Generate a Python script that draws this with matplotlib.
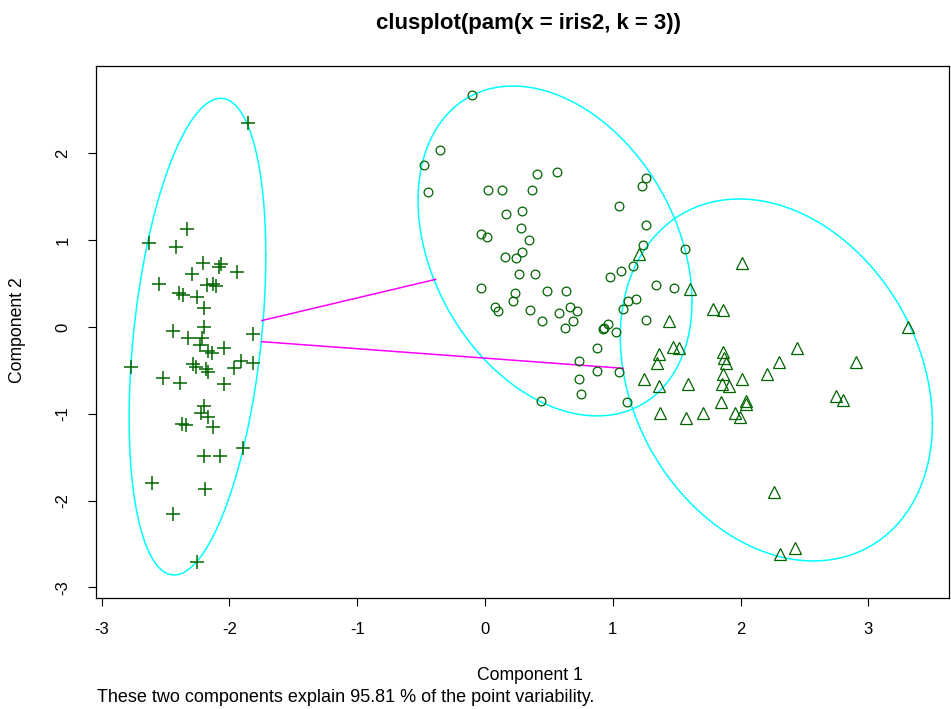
import matplotlib.pyplot as plt
import numpy as np

plt.rcParams['font.family'] = ['Liberation Sans', 'DejaVu Sans']
plt.rcParams['axes.unicode_minus'] = False

# principal component scores, cluster 1 (drawn as +)
c1_comp1 = [-1.852, -2.329, -2.629, -2.420, -2.209, -2.066, -2.079, -1.943, -2.293, -2.548,
            -2.178, -2.131, -2.105, -2.397, -2.366, -2.256, -2.199, -2.199, -2.439, -1.813,
            -2.321, -2.217, -2.230, -2.165, -2.139, -2.042, -2.772, -2.287, -2.261, -2.183,
            -2.165, -1.964, -1.909, -1.818, -2.522, -2.387, -2.042, -2.199, -2.225, -2.165,
            -2.131, -2.373, -2.340, -1.896, -2.199, -2.074, -2.608, -2.191, -2.439, -2.256]
c1_comp2 = [2.347, 1.125, 0.971, 0.922, 0.741, 0.722, 0.695, 0.634, 0.611, 0.492,
            0.480, 0.495, 0.476, 0.395, 0.365, 0.349, 0.215, 0.004, -0.042, -0.081,
            -0.130, -0.130, -0.207, -0.273, -0.303, -0.246, -0.457, -0.426, -0.457, -0.488,
            -0.515, -0.476, -0.388, -0.411, -0.591, -0.641, -0.660, -0.910, -0.987, -1.033,
            -1.148, -1.121, -1.133, -1.398, -1.482, -1.486, -1.793, -1.866, -2.154, -2.704]

# cluster 2 (circles)
c2_comp1 = [-0.104, -0.355, -0.480, -0.446, 0.407, 0.563, 0.021, 0.131, 0.368, 0.167,
            0.287, 0.279, -0.031, 0.013, 0.342, 0.287, 0.159, 0.243,
            1.262, 1.226, 1.051, 1.262, 1.234, 1.565,
            0.264, 0.391, -0.031, 0.232, 0.222, 0.483, 0.636, 0.076, 0.099, 0.352,
            0.581, 0.663, 0.443, 0.629, 0.691, 0.436,
            1.161, 1.062, 0.976, 1.336, 1.477, 0.722, 1.184, 1.119, 1.077, 1.262,
            0.960, 0.934, 0.926, 1.025, 0.876, 0.738, 0.879, 1.051, 0.738, 0.749, 1.109]
c2_comp2 = [2.673, 2.036, 1.863, 1.552, 1.766, 1.782, 1.578, 1.578, 1.578, 1.305,
            1.336, 1.137, 1.068, 1.040, 0.999, 0.864, 0.803, 0.795,
            1.717, 1.628, 1.390, 1.175, 0.948, 0.902,
            0.607, 0.607, 0.446, 0.392, 0.296, 0.415, 0.415, 0.234, 0.184, 0.199,
            0.161, 0.230, 0.069, -0.015, 0.069, -0.849,
            0.703, 0.649, 0.580, 0.488, 0.446, 0.188, 0.319, 0.296, 0.211, 0.081,
            0.031, -0.008, -0.027, -0.054, -0.242, -0.388, -0.510, -0.518, -0.596, -0.772, -0.864]

# cluster 3 (triangles)
c3_comp1 = [1.207, 1.604, 1.786, 1.442, 2.008, 1.865, 1.474, 1.518, 1.364, 1.348,
            1.247, 1.364, 1.591, 1.369, 1.573, 1.703, 1.865, 1.870, 1.883, 3.312,
            2.439, 2.303, 2.900, 1.865, 1.852, 1.909, 2.013, 2.209, 1.847, 2.042,
            2.040, 1.956, 1.995, 2.746, 2.799, 2.264, 2.426, 2.308]
c3_comp2 = [0.837, 0.438, 0.207, 0.069, 0.741, 0.196, -0.234, -0.245, -0.311, -0.411,
            -0.599, -0.680, -0.657, -0.994, -1.052, -0.994, -0.284, -0.361, -0.418, -0.004,
            -0.246, -0.407, -0.400, -0.541, -0.657, -0.676, -0.599, -0.545, -0.861, -0.856,
            -0.891, -0.987, -1.040, -0.791, -0.841, -1.904, -2.550, -2.619]

# spanning ellipses: centre and shape matrix for each cluster
ell_centres = [(-2.25, -0.111), (0.548, 0.876), (2.28, -0.61)]
ell_shapes = [[[0.286, 0.50], [0.50, 7.54]],
              [[1.149, -0.625], [-0.625, 3.61]],
              [[1.491, -0.605], [-0.605, 4.347]]]

# segments joining neighbouring ellipses
seg_from = [(-1.745, 0.075), (-1.745, -0.169)]
seg_to = [(-0.386, 0.549), (1.082, -0.476)]

title = "clusplot(pam(x = iris2, k = 3))"
subtitle = "These two components explain 95.81 % of the point variability."

W, H = 951, 709
fig = plt.figure(figsize=(W / 100, H / 100), dpi=100)
ax = fig.add_axes([96 / W, 111 / H, 853 / W, 532 / H])

t = np.linspace(0, 2 * np.pi, 400)
circ = np.vstack([np.cos(t), np.sin(t)])
for c, s in zip(ell_centres, ell_shapes):
    L = np.linalg.cholesky(np.array(s))
    pts = np.array(c)[:, None] + L @ circ
    ax.plot(pts[0], pts[1], color="#00FFFF", lw=1.1, zorder=1)

for a, b in zip(seg_from, seg_to):
    ax.plot([a[0], b[0]], [a[1], b[1]], color="#FF00FF", lw=1.1, zorder=1)

green = "#006400"
ax.plot(c1_comp1, c1_comp2, ls="none", marker="+", ms=10.5, mew=1.1, color=green, zorder=2)
ax.plot(c2_comp1, c2_comp2, ls="none", marker="o", ms=6.3, mew=0.9, mfc="none", mec=green, zorder=2)
ax.plot(c3_comp1, c3_comp2, ls="none", marker="^", ms=8.5, mew=0.9, mfc="none", mec=green, zorder=2)

ax.set_xlim(-3.044, 3.631)
ax.set_ylim(-3.122, 3.007)
ax.set_xticks(range(-3, 4))
ax.set_yticks(range(-3, 3))
ax.tick_params(direction="out", length=5.5, width=0.8, labelsize=12, color="black")
ax.tick_params(axis="x", pad=12)
ax.tick_params(axis="y", pad=13)
for lab in ax.get_yticklabels():
    lab.set_rotation(90)
    lab.set_va("center")
for sp in ax.spines.values():
    sp.set_linewidth(0.9)

fig.text(529 / W, 1 - 23 / H, title, ha="center", va="center", fontsize=16, fontweight="bold")
fig.text(530 / W, 1 - 675 / H, "Component 1", ha="center", va="center", fontsize=12.7)
fig.text(18 / W, 1 - 330 / H, "Component 2", ha="center", va="center", rotation=90, fontsize=12.7)
fig.text(97 / W, 1 - 697 / H, subtitle, ha="left", va="center", fontsize=13)

fig.savefig("out.png", dpi=100)
